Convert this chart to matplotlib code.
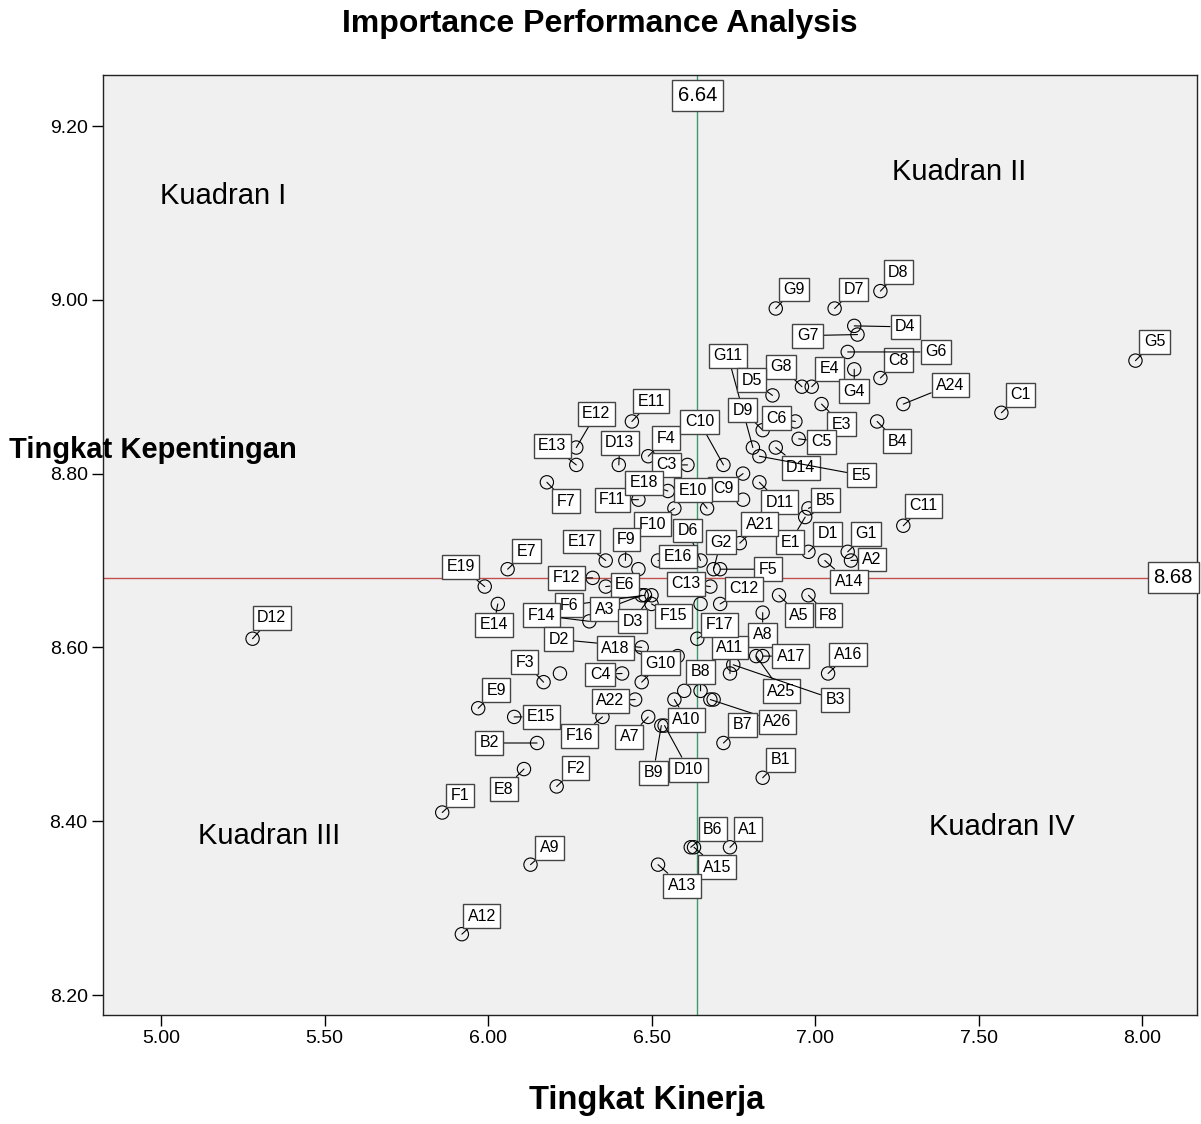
# Importance Performance Analysis - diagram kartesius
import matplotlib
matplotlib.use('Agg')
import matplotlib.pyplot as plt

plt.rcParams['font.family'] = ['Liberation Sans', 'DejaVu Sans']

# --- 1. DATA: kode atribut, rata-rata kinerja (x) dan kepentingan (y) ---
kode = ['G9', 'D7', 'D8', 'D4', 'G7', 'C8', 'G6', 'G5', 'C1', 'G11',
        'G8', 'E4', 'G4', 'A24', 'D5', 'D9', 'C6', 'E3', 'C5', 'B4',
        'D14', 'E5', 'E11', 'E12', 'E13', 'D13', 'F4', 'F7', 'F11', 'C3',
        'C10', 'E18', 'C9', 'E10', 'D11', 'D6', 'F10', 'B5', 'E1', 'A21',
        'D1', 'G1', 'A2', 'A14', 'C11', 'G2', 'F5', 'C12', 'C13', 'E16',
        'A5', 'F8', 'A8', 'A17', 'A25', 'A11', 'B3', 'F17', 'B8', 'A26',
        'A10', 'B9', 'D10', 'A7', 'A22', 'F16', 'E15', 'E9', 'B2', 'E8',
        'F2', 'F1', 'A9', 'B6', 'A15', 'A1', 'A13', 'A12', 'D12', 'E19',
        'E7', 'E14', 'E17', 'F9', 'F12', 'E6', 'F6', 'A3', 'D3', 'F15',
        'F14', 'D2', 'A18', 'G10', 'C4', 'F3', 'A16', 'B7', 'B1',
        'A4', 'A6', 'A19', 'A20', 'A23', 'C2']

kinerja = [6.88, 7.06, 7.20, 7.12, 7.13, 7.20, 7.10, 7.98, 7.57, 6.81,
           6.96, 6.99, 7.12, 7.27, 6.87, 6.84, 6.94, 7.02, 6.95, 7.19,
           6.88, 6.83, 6.44, 6.27, 6.27, 6.40, 6.49, 6.18, 6.46, 6.61,
           6.72, 6.55, 6.78, 6.67, 6.83, 6.65, 6.57, 6.98, 6.97, 6.77,
           6.98, 7.10, 7.11, 7.03, 7.27, 6.69, 6.71, 6.71, 6.68, 6.52,
           6.89, 6.98, 6.84, 6.84, 6.82, 6.74, 6.75, 6.64, 6.65, 6.68,
           6.57, 6.53, 6.54, 6.49, 6.45, 6.35, 6.08, 5.97, 6.15, 6.11,
           6.21, 5.86, 6.13, 6.62, 6.63, 6.74, 6.52, 5.92, 5.28, 5.99,
           6.06, 6.03, 6.36, 6.42, 6.32, 6.36, 6.48, 6.47, 6.50, 6.50,
           6.31, 6.47, 6.58, 6.47, 6.41, 6.17, 7.04, 6.72, 6.84,
           6.78, 6.46, 6.22, 6.60, 6.69, 6.65]

kepentingan = [8.99, 8.99, 9.01, 8.97, 8.96, 8.91, 8.94, 8.93, 8.87, 8.83,
               8.90, 8.90, 8.92, 8.88, 8.89, 8.85, 8.86, 8.88, 8.84, 8.86,
               8.83, 8.82, 8.86, 8.83, 8.81, 8.81, 8.82, 8.79, 8.77, 8.81,
               8.81, 8.78, 8.80, 8.76, 8.79, 8.70, 8.76, 8.76, 8.75, 8.72,
               8.71, 8.71, 8.70, 8.70, 8.74, 8.69, 8.69, 8.65, 8.67, 8.70,
               8.66, 8.66, 8.64, 8.59, 8.59, 8.57, 8.58, 8.61, 8.55, 8.54,
               8.54, 8.51, 8.51, 8.52, 8.54, 8.52, 8.52, 8.53, 8.49, 8.46,
               8.44, 8.41, 8.35, 8.37, 8.37, 8.37, 8.35, 8.27, 8.61, 8.67,
               8.69, 8.65, 8.70, 8.70, 8.68, 8.67, 8.66, 8.66, 8.66, 8.65,
               8.63, 8.60, 8.59, 8.56, 8.57, 8.56, 8.57, 8.49, 8.45,
               8.77, 8.69, 8.57, 8.55, 8.54, 8.65]

rata_kinerja = 6.64
rata_kepentingan = 8.68

nama_kuadran = ['Kuadran I', 'Kuadran II', 'Kuadran III', 'Kuadran IV']
xticks = [5.0, 5.5, 6.0, 6.5, 7.0, 7.5, 8.0]
yticks = [8.2, 8.4, 8.6, 8.8, 9.0, 9.2]

# --- 2. LAYOUT: posisi kotak label relatif ke titik (pixel, dx ke kanan, dy ke atas) ---
posisi_label = {
    'G9': (18, 19), 'D7': (19, 19), 'D8': (18, 19), 'D4': (51, -1), 'G7': (-50, -1),
    'C8': (18, 18), 'G6': (88, 0), 'G5': (19, 19), 'C1': (19, 18), 'G11': (-25, 92),
    'G8': (-21, 20), 'E4': (18, 18), 'G4': (0, -22), 'A24': (47, 19), 'D5': (-21, 15),
    'D9': (-20, 20), 'C6': (-19, 3), 'E3': (20, -20), 'C5': (23, -3), 'B4': (20, -20),
    'D14': (25, -20), 'E5': (102, -19), 'E11': (19, 20), 'E12': (20, 34), 'E13': (-24, 19),
    'D13': (1, 22), 'F4': (18, 18), 'F7': (19, -19), 'F11': (-26, 0), 'C3': (-21, 0),
    'C10': (-24, 43), 'E18': (-24, 8), 'C9': (-20, -15), 'E10': (-14, 18), 'D11': (20, -20),
    'D6': (-13, 30), 'F10': (-22, -16), 'B5': (17, 8), 'E1': (-15, -25), 'A21': (20, 19),
    'D1': (19, 18), 'G1': (18, 18), 'A2': (21, 1), 'A14': (24, -21), 'C11': (20, 20),
    'G2': (7, 27), 'F5': (48, 0), 'C12': (24, 15), 'C13': (-24, 3), 'E16': (20, 4),
    'A5': (20, -20), 'F8': (20, -20), 'A8': (0, -22), 'A17': (28, 0), 'A25': (25, -35),
    'A11': (0, 26), 'B3': (102, -35), 'F17': (22, 14), 'B8': (0, 19), 'A26': (67, -22),
    'A10': (12, -20), 'B9': (-8, -47), 'D10': (24, -44), 'A7': (-19, -20), 'A22': (-25, -1),
    'F16': (-23, -19), 'E15': (27, 0), 'E9': (18, 18), 'B2': (-48, 0), 'E8': (-20, -20),
    'F2': (19, 18), 'F1': (18, 17), 'A9': (19, 17), 'B6': (22, 18), 'A15': (23, -20),
    'A1': (18, 18), 'A13': (24, -21), 'A12': (20, 18), 'D12': (19, 21), 'E19': (-24, 20),
    'E7': (19, 18), 'E14': (-4, -21), 'E17': (-24, 19), 'F9': (1, 21), 'F12': (-26, 0),
    'E6': (19, 2), 'F6': (-76, -10), 'A3': (-37, -14), 'D3': (-19, -26), 'F15': (22, -12),
    'F14': (-48, 6), 'D2': (-83, 8), 'A18': (-62, 8), 'G10': (19, 19), 'C4': (-22, -1),
    'F3': (-19, 20), 'A16': (20, 19), 'B7': (19, 18), 'B1': (18, 18),
}

# posisi teks kuadran (koordinat data)
posisi_kuadran = [(5.19, 9.12), (7.44, 9.147), (5.33, 8.383), (7.57, 8.393)]

# --- 3. GAMBAR ---
fig = plt.figure(figsize=(12.01, 11.24), dpi=100)
ax = fig.add_axes([0.08576, 0.09698, 0.91091, 0.83630])
ax.set_facecolor('#f0f0f0')

ax.set_xlim(4.8226, 8.1682)
ax.set_ylim(8.1770, 9.2587)

ax.axvline(rata_kinerja, color='#3d9a6c', lw=1, zorder=1)
ax.axhline(rata_kepentingan, color='#c0504d', lw=1, zorder=1)

ax.scatter(kinerja, kepentingan, s=92, facecolors='none', edgecolors='black',
           linewidths=0.8, zorder=3)

for k, x, y in zip(kode, kinerja, kepentingan):
    if k not in posisi_label:
        continue  # label tersembunyi (bertumpuk)
    dx, dy = posisi_label[k]
    ax.annotate(k, (x, y), xytext=(dx, dy), textcoords='offset pixels',
                ha='center', va='center', fontsize=11.5, zorder=4,
                bbox=dict(boxstyle='square,pad=0.28', fc='white', ec='#444444', lw=1),
                arrowprops=dict(arrowstyle='-', color='black', lw=0.8,
                                shrinkA=0, shrinkB=0))

for nama, (qx, qy) in zip(nama_kuadran, posisi_kuadran):
    ax.text(qx, qy, nama, fontsize=21, ha='center', va='center', zorder=2)

# label nilai garis rata-rata
kotak = dict(boxstyle='square,pad=0.3', fc='white', ec='#444444', lw=1)
ax.text(rata_kinerja, 0.9777, f'{rata_kinerja:.2f}', transform=ax.get_xaxis_transform(),
        ha='center', va='center', fontsize=14.5, bbox=kotak, zorder=5)
ax.text(0.9963, rata_kepentingan, f'{rata_kepentingan:.2f}', transform=ax.get_yaxis_transform(),
        ha='right', va='center', fontsize=14.5, bbox=kotak, zorder=5)

ax.set_xticks(xticks)
ax.set_xticklabels([f'{v:.2f}' for v in xticks])
ax.set_yticks(yticks)
ax.set_yticklabels([f'{v:.2f}' for v in yticks])
ax.tick_params(direction='out', length=8, width=1, pad=3, labelsize=14, colors='black')
for sisi in ax.spines.values():
    sisi.set_color('#222222')
    sisi.set_linewidth(1)

fig.text(0.4996, 0.9786, 'Importance Performance Analysis', ha='center', va='center',
         fontsize=23, fontweight='bold')
fig.text(0.538, 0.0205, 'Tingkat Kinerja', ha='center', va='center',
         fontsize=23.5, fontweight='bold')
fig.text(0.1274, 0.5996, 'Tingkat Kepentingan', ha='center', va='center',
         fontsize=21, fontweight='bold')

fig.savefig('out.png', dpi=100)
